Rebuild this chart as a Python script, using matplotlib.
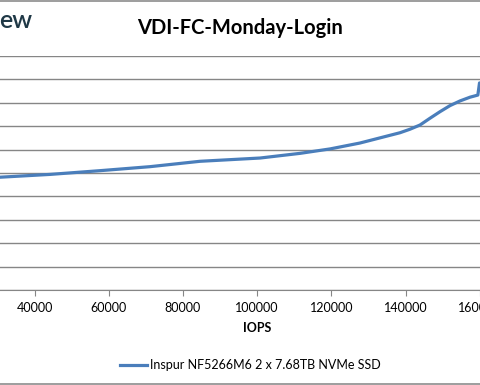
import numpy as np
import matplotlib.pyplot as plt
from matplotlib.lines import Line2D

# data (y in gridline units, labels cut off)
iops = [28000, 30700, 44200, 57700, 71100, 84600, 100800, 111600, 119700,
        127700, 133100, 138500, 141200, 143900, 146600, 149300, 152000,
        154700, 157400, 159500, 159950]
latency = [4.78, 4.82, 4.94, 5.10, 5.27, 5.50, 5.64, 5.84, 6.03,
           6.28, 6.50, 6.72, 6.87, 7.05, 7.34, 7.62, 7.88,
           8.08, 8.24, 8.33, 8.85]
xticks = [40000, 60000, 80000, 100000, 120000, 140000, 160000]
series_name = "Inspur NF5266M6 2 x 7.68TB NVMe SSD"
title = "VDI-FC-Monday-Login"

plt.rcParams['font.family'] = ['Lato', 'DejaVu Sans']

W, H = 480, 385
fig = plt.figure(figsize=(4.8, 3.85), dpi=100)

# plot area is cropped left and right: axes span the whole width
ax = fig.add_axes([0, (H - 290) / H, 1, (290 - 56) / H])
x0 = 40000 - 34.5 / 74.2 * 20000
x1 = 40000 + (480 - 34.5) / 74.2 * 20000
ax.set_xlim(x0, x1)
ax.set_ylim(0, 10)

ax.plot(iops, latency, color='#4a7ebb', lw=2.3, solid_capstyle='round',
        solid_joinstyle='round', zorder=3)

ax.set_yticks(np.arange(0, 11, 1))
ax.yaxis.grid(True, color='#868686', lw=1)
ax.tick_params(axis='y', left=False, labelleft=False)
ax.set_xticks(xticks)
ax.tick_params(axis='x', direction='out', length=4, color='#868686', labelsize=9, pad=5)
for s in ['left', 'right', 'top']:
    ax.spines[s].set_visible(False)
ax.spines['bottom'].set_color('#868686')
ax.set_facecolor('none')

fig.text(240 / W, 1 - 28 / H, title, ha='center', va='center', fontsize=14.5, fontweight='bold')
fig.text(257 / W, 1 - 328 / H, "IOPS", ha='center', va='center', fontsize=9, fontweight='bold')
fig.text(-1 / W, 1 - 20 / H, "ew", ha='left', va='center', fontsize=18, fontweight='semibold',
         color='#1f3846')

# legend
fig.add_artist(Line2D([120 / W, 147 / W], [1 - 365 / H, 1 - 365 / H], color='#4a7ebb', lw=2.3))
fig.text(150 / W, 1 - 365 / H, series_name, ha='left', va='center', fontsize=9)

# page borders
fig.add_artist(Line2D([0, 1], [1 - 0.5 / H, 1 - 0.5 / H], color='#8c8c8c', lw=1.2))
fig.add_artist(Line2D([0, 1], [1 - 383.5 / H, 1 - 383.5 / H], color='#8c8c8c', lw=1.2))

fig.savefig('out.png', dpi=100)
